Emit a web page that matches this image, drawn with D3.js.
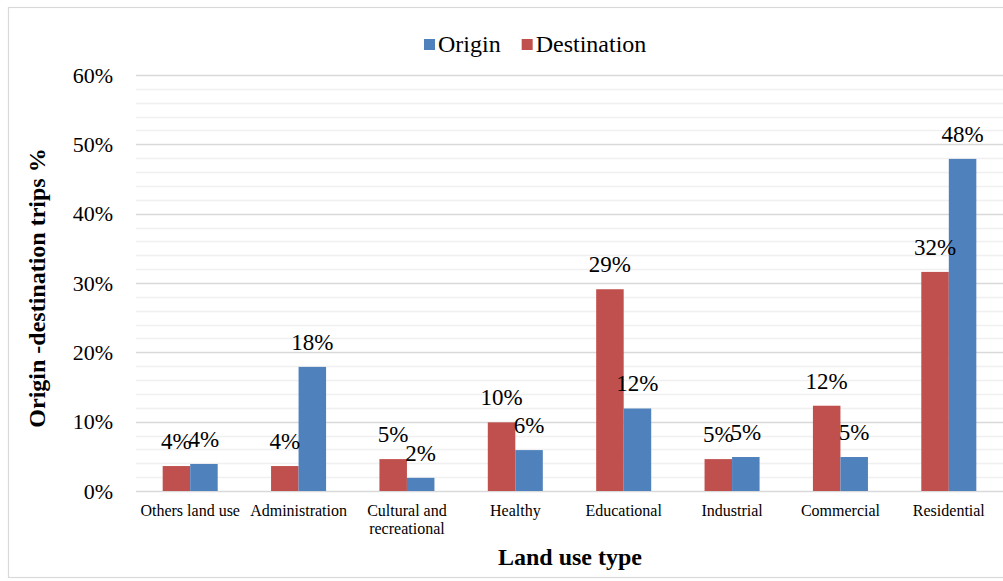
<!DOCTYPE html>
<html>
<head>
<meta charset="utf-8">
<script src="https://cdn.jsdelivr.net/npm/d3@7"></script>
<style>
  html, body { margin: 0; padding: 0; background: #fff; }
  svg { display: block; font-family: "Liberation Serif", "Times New Roman", serif; }
</style>
</head>
<body>
<svg id="chart" width="1003" height="581"></svg>
<script>
// Land use categories along the x axis
const categories = ["Others land use", "Administration", "Cultural and recreational", "Healthy",
                    "Educational", "Industrial", "Commercial", "Residential"];
// Share of trips (%) per land use
const destination = [3.6, 3.6, 4.6, 9.9, 29.1, 4.6, 12.3, 31.6];
const origin      = [3.9, 17.9, 1.9, 5.9, 11.9, 4.9, 4.9, 47.9];
// Series drawn inside each category, left to right
const seriesNames = ["Destination", "Origin"];
const seriesColors = { Origin: "#4F81BD", Destination: "#C0504D" };
// Legend order
const legendNames = ["Origin", "Destination"];
// Y axis ticks
const yTicks = [0, 10, 20, 30, 40, 50, 60];
const yMinorTicks = d3.range(0, 61, 2);

const seriesValues = { Destination: destination, Origin: origin };

const svg = d3.select("#chart");
const W = 1003, H = 581;
const plot = { left: 136, right: 1003, top: 75, bottom: 491 };
const serif = "Liberation Serif, Times New Roman, serif";

// Outer chart frame
svg.append("rect").attr("x", 8.5).attr("y", 7.5).attr("width", W + 10).attr("height", H - 11)
  .attr("fill", "#fff").attr("stroke", "#d9d9d9").attr("stroke-width", 1.2);

const x0 = d3.scaleBand().domain(categories).range([plot.left, plot.right]).padding(0);
const x1 = d3.scaleBand().domain(seriesNames).range([0, x0.bandwidth()]).paddingInner(0).paddingOuter(0.97);
const y = d3.scaleLinear().domain([0, 60]).range([plot.bottom, plot.top]);

// Gridlines: light every 2%, stronger every 10%
svg.append("g").selectAll("line").data(yMinorTicks.filter(d => d % 10 !== 0)).join("line")
  .attr("x1", plot.left).attr("x2", plot.right)
  .attr("y1", d => Math.round(y(d)) + 0.5).attr("y2", d => Math.round(y(d)) + 0.5)
  .attr("stroke", "#f0f0f0").attr("stroke-width", 1.5);
svg.append("g").selectAll("line").data(yTicks).join("line")
  .attr("x1", plot.left).attr("x2", plot.right)
  .attr("y1", d => Math.round(y(d)) + 0.5).attr("y2", d => Math.round(y(d)) + 0.5)
  .attr("stroke", "#d9d9d9").attr("stroke-width", 1.5);

// Y axis labels
const yAxis = d3.axisLeft(y).tickValues(yTicks).tickFormat(d => d + "%").tickSize(0).tickPadding(23);
const gy = svg.append("g").attr("transform", `translate(${plot.left},0)`).call(yAxis);
gy.select(".domain").remove();
gy.attr("font-family", serif);
gy.selectAll("text").attr("font-size", 22).attr("fill", "#000");

// Bars
const groups = svg.append("g").selectAll("g").data(categories).join("g")
  .attr("transform", d => `translate(${x0(d)},0)`);

groups.selectAll("rect")
  .data((c, i) => seriesNames.map(s => ({ s, v: seriesValues[s][i] })))
  .join("rect")
  .attr("x", d => x1(d.s))
  .attr("width", x1.bandwidth())
  .attr("y", d => y(d.v))
  .attr("height", d => y(0) - y(d.v))
  .attr("fill", d => seriesColors[d.s]);

// Value labels
const fmt = d3.format(".0%");
groups.selectAll("text.val")
  .data((c, i) => seriesNames.map(s => ({ s, v: seriesValues[s][i] })))
  .join("text").attr("class", "val")
  .attr("x", d => x1(d.s) + x1.bandwidth() / 2)
  .attr("y", d => y(d.v) - 17)
  .attr("text-anchor", "middle")
  .attr("font-family", serif)
  .attr("font-size", 23).attr("fill", "#000")
  .text(d => fmt(d.v / 100));

// X axis category labels (wrapped to the band width)
const xAxis = d3.axisBottom(x0).tickSize(0).tickPadding(0);
const gx = svg.append("g").attr("transform", `translate(0,${plot.bottom})`).call(xAxis);
gx.select(".domain").remove();
gx.attr("font-family", serif);
gx.selectAll("text").attr("font-size", 16).attr("fill", "#000")
  .attr("y", 25).attr("dy", 0)
  .each(function (d) {
    const t = d3.select(this);
    const words = d.split(" ");
    t.text(null);
    let line = [];
    let tspan = t.append("tspan").attr("x", 0).attr("dy", 0);
    words.forEach(w => {
      line.push(w);
      tspan.text(line.join(" "));
      if (tspan.node().getComputedTextLength() > x0.bandwidth() - 4 && line.length > 1) {
        line.pop();
        tspan.text(line.join(" "));
        line = [w];
        tspan = t.append("tspan").attr("x", 0).attr("dy", 18).text(w);
      }
    });
  });

// Axis titles
svg.append("text")
  .attr("transform", `translate(45,${(plot.top + plot.bottom) / 2 + 5}) rotate(-90)`)
  .attr("text-anchor", "middle").attr("font-family", serif)
  .attr("font-size", 24).attr("font-weight", "bold")
  .text("Origin -destination trips %");

svg.append("text")
  .attr("x", 570).attr("y", 565)
  .attr("text-anchor", "middle").attr("font-family", serif)
  .attr("font-size", 24).attr("font-weight", "bold")
  .text("Land use type");

// Legend
const legend = svg.append("g").attr("transform", "translate(424,39)").attr("font-family", serif);
let lx = 0;
legendNames.forEach(name => {
  const g = legend.append("g").attr("transform", `translate(${lx},0)`);
  g.append("rect").attr("width", 11).attr("height", 11).attr("fill", seriesColors[name]);
  const t = g.append("text").attr("x", 14).attr("y", 13).attr("font-size", 24).text(name);
  lx += 14 + t.node().getComputedTextLength() + 21;
});
</script>
</body>
</html>
